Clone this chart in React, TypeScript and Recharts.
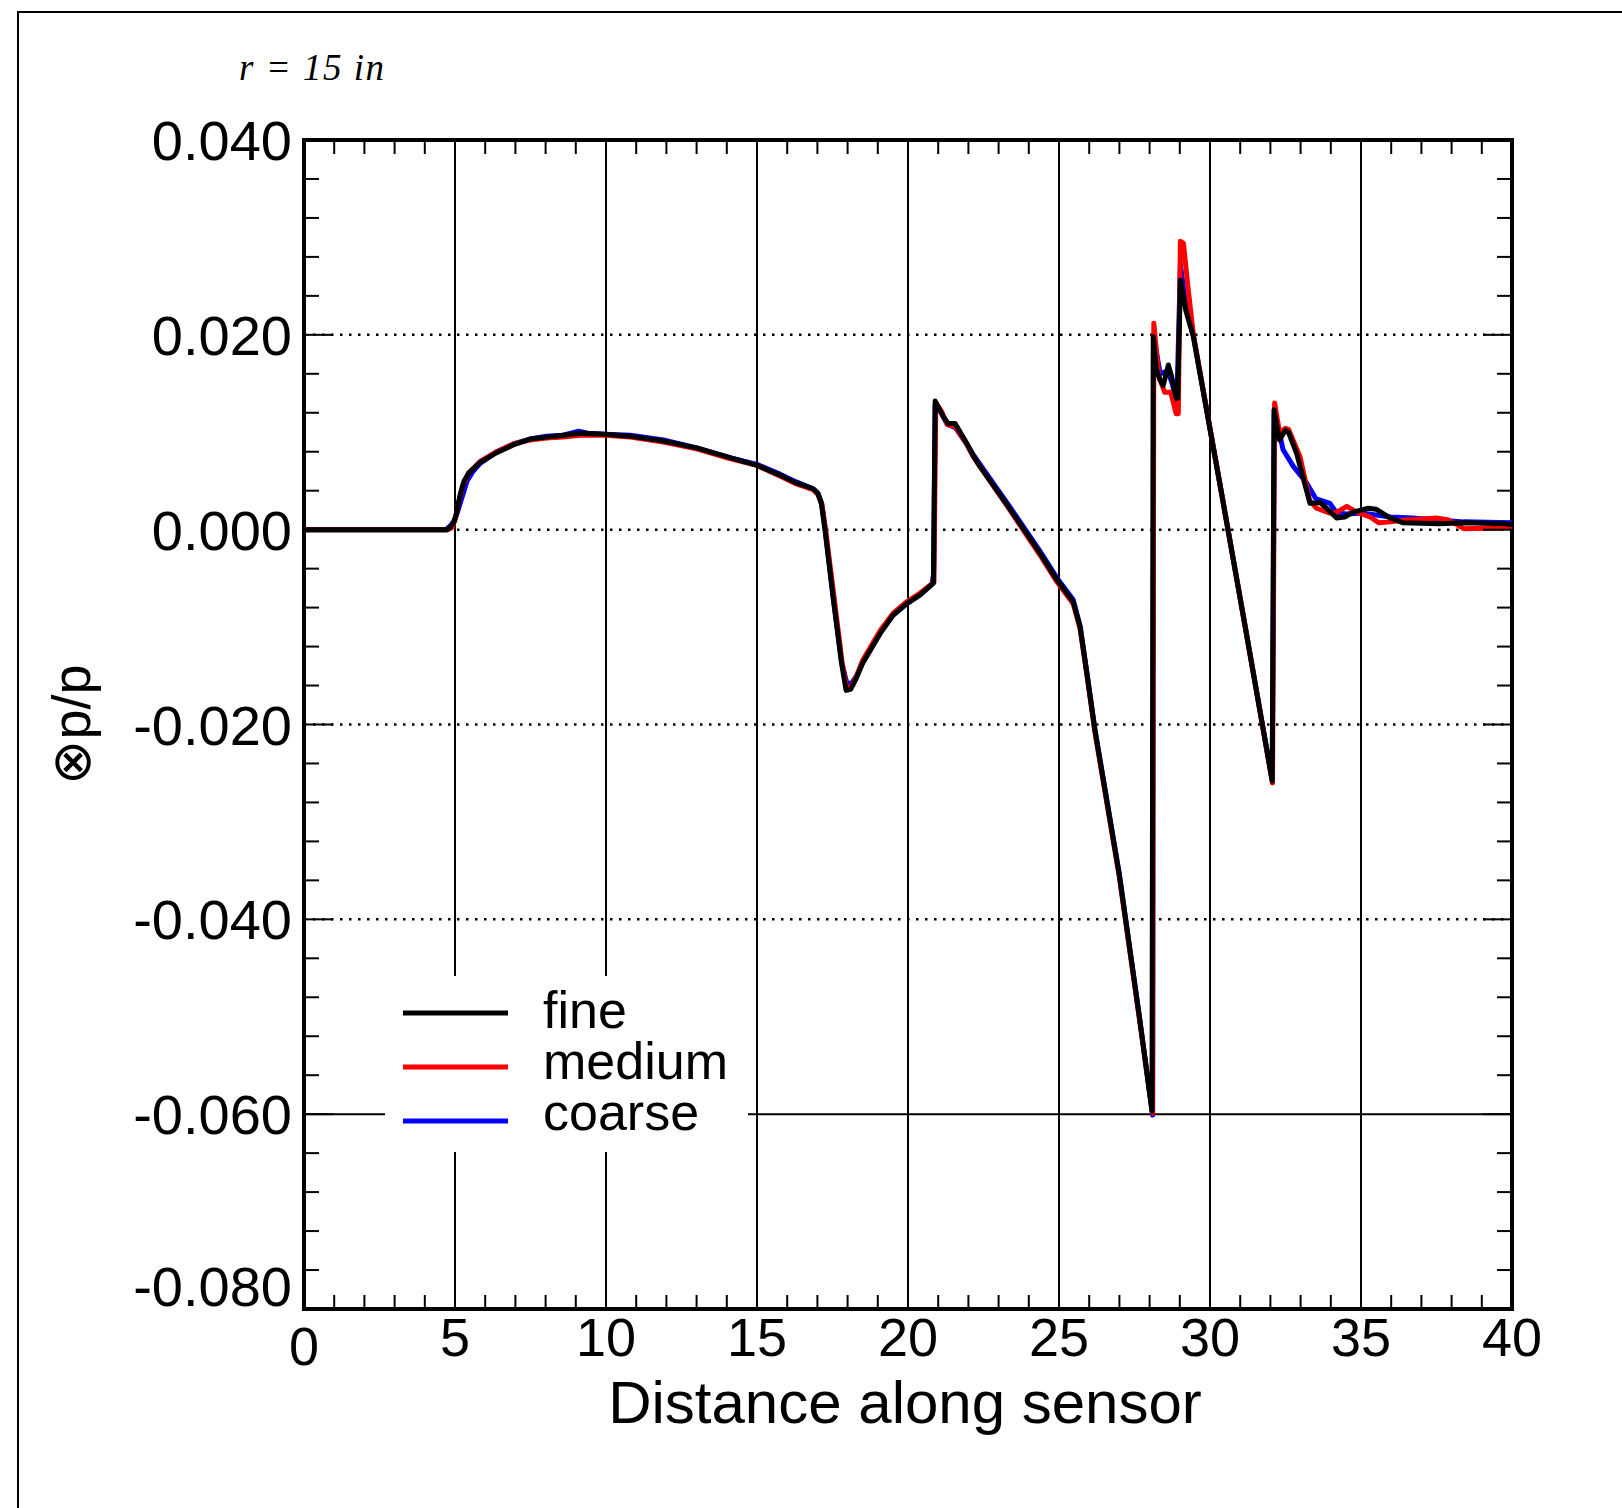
import React from "react";
import {
  LineChart,
  Line,
  XAxis,
  YAxis,
  ReferenceLine,
  ReferenceArea,
  Legend,
} from "recharts";

// fine grid (black)
const fineX = [
  0, 4.75, 4.85, 4.97, 5.05, 5.17, 5.3, 5.45, 5.83, 6.38, 6.93, 7.48, 8.03, 8.58, 9.14, 9.97, 10.8, 11.9, 13.0,
  14.1, 15.0, 15.76, 16.3, 16.86, 17.02, 17.13, 17.25, 17.52, 17.8, 17.95, 18.1, 18.25, 18.5, 19.07, 19.5,
  19.96, 20.4, 20.84, 20.9, 21.17, 21.33, 21.56, 21.94, 22.16, 22.38, 23.27, 24.37, 24.92, 25.47, 25.7, 25.92,
  26.19, 27.0, 27.66, 28.08, 28.12, 28.22, 28.34, 28.45, 28.62, 28.73, 28.88, 28.93, 29.02, 29.2, 29.45, 30.4,
  31.2, 32.06, 32.12, 32.3, 32.5, 32.6, 32.87, 33.31, 33.64, 33.86, 34.19, 34.46, 34.74, 35.24, 35.5, 35.96,
  36.4, 37.6, 38.4, 39.8, 40,
];
const fineY = [
  0, 0, 0.0003, 0.0008, 0.0017, 0.0036, 0.005, 0.0058, 0.0069, 0.0079, 0.0087, 0.0093, 0.0095, 0.0097, 0.0099,
  0.0098, 0.0096, 0.0091, 0.0084, 0.0074, 0.0066, 0.0056, 0.0048, 0.0042, 0.0037, 0.0027, 0.0, -0.0069, -0.0137,
  -0.0165, -0.0164, -0.0155, -0.0137, -0.0107, -0.0088, -0.0076, -0.0067, -0.0055, 0.0132, 0.0116, 0.0109,
  0.0109, 0.0089, 0.0076, 0.0065, 0.0026, -0.0024, -0.0051, -0.0074, -0.01, -0.0147, -0.0206, -0.0355, -0.05,
  -0.0597, 0.0198, 0.0165, 0.0154, 0.0148, 0.0169, 0.0157, 0.0135, 0.0135, 0.0256, 0.0225, 0.0198, 0.0034,
  -0.0106, -0.0258, 0.0123, 0.0092, 0.0102, 0.01, 0.0078, 0.0027, 0.0028, 0.0022, 0.0012, 0.0013, 0.0018,
  0.0022, 0.0021, 0.0012, 0.0007, 0.0006, 0.0007, 0.0006, 0.0005,
];

// medium grid (red)
const mediumX = [
  0, 4.75, 4.9, 5.0, 5.1, 5.25, 5.45, 5.83, 6.38, 6.93, 7.48, 8.03, 8.58, 9.14, 9.97, 10.8, 11.9, 13.0, 14.1,
  15.0, 15.76, 16.3, 16.86, 17.02, 17.15, 17.27, 17.55, 17.82, 17.97, 18.12, 18.3, 18.5, 19.07, 19.5, 19.96,
  20.4, 20.86, 20.92, 21.1, 21.3, 21.56, 21.94, 22.16, 23.27, 24.37, 24.92, 25.47, 25.7, 25.92, 26.19, 27.0,
  27.66, 28.1, 28.14, 28.3, 28.5, 28.7, 28.88, 28.95, 29.02, 29.12, 29.27, 29.45, 30.4, 31.2, 32.07, 32.14,
  32.3, 32.5, 32.6, 32.98, 33.3, 33.53, 33.97, 34.2, 34.53, 34.85, 35.3, 35.6, 35.96, 36.5, 37.5, 37.9, 38.4,
  40,
];
const mediumY = [
  0, 0, 0.0002, 0.001, 0.0025, 0.0045, 0.0058, 0.007, 0.008, 0.0088, 0.0092, 0.0094, 0.0095, 0.0097, 0.0097,
  0.0095, 0.009, 0.0083, 0.0073, 0.0066, 0.0055, 0.0047, 0.0041, 0.0036, 0.0026, 0.0, -0.0069, -0.0137,
  -0.0163, -0.0161, -0.015, -0.0134, -0.0104, -0.0086, -0.0074, -0.0065, -0.0054, 0.013, 0.0122, 0.0108,
  0.0106, 0.0088, 0.0075, 0.0025, -0.0026, -0.0053, -0.0076, -0.0102, -0.0148, -0.0208, -0.0357, -0.0502,
  -0.0599, 0.0212, 0.0158, 0.0141, 0.0141, 0.0119, 0.0119, 0.0296, 0.0294, 0.0249, 0.02, 0.0034, -0.0106,
  -0.026, 0.013, 0.01, 0.0104, 0.0103, 0.0075, 0.003, 0.0022, 0.0017, 0.0018, 0.0024, 0.0018, 0.0013, 0.0007,
  0.0008, 0.001, 0.0012, 0.001, 0.0001, 0.0002,
];

// coarse grid (blue)
const coarseX = [
  0, 4.7, 4.85, 4.95, 5.05, 5.2, 5.4, 5.6, 5.83, 6.38, 6.93, 7.48, 8.03, 8.58, 9.1, 9.4, 9.97, 10.8, 11.9, 13.0,
  14.1, 15.0, 15.76, 16.3, 16.86, 17.02, 17.14, 17.26, 17.52, 17.8, 17.97, 18.12, 18.3, 18.5, 19.07, 19.5,
  19.96, 20.4, 20.8, 20.85, 20.9, 21.1, 21.3, 21.56, 21.94, 22.16, 23.27, 24.37, 24.92, 25.47, 25.7, 25.92,
  26.19, 27.0, 27.66, 28.1, 28.13, 28.35, 28.6, 28.75, 28.9, 29.02, 29.2, 29.45, 30.4, 31.2, 32.06, 32.13,
  32.42, 32.76, 33.2, 33.5, 33.97, 34.2, 34.53, 35.07, 35.96, 36.7, 38.4, 40,
];
const coarseY = [
  0, 0, 0.0004, 0.0008, 0.0015, 0.003, 0.005, 0.006, 0.0068, 0.008, 0.0088, 0.0093, 0.0096, 0.0097, 0.0101,
  0.0099, 0.0098, 0.0097, 0.0092, 0.0084, 0.0074, 0.0067, 0.0057, 0.0049, 0.0042, 0.0037, 0.0027, 0.0,
  -0.0069, -0.0136, -0.0157, -0.0158, -0.015, -0.0136, -0.0106, -0.0088, -0.0076, -0.0067, -0.0056, -0.0045,
  0.0128, 0.012, 0.0108, 0.0105, 0.0088, 0.0077, 0.0028, -0.0022, -0.0049, -0.0072, -0.0099, -0.0146, -0.0205,
  -0.0354, -0.0499, -0.0601, 0.02, 0.016, 0.0163, 0.015, 0.0128, 0.0272, 0.023, 0.0199, 0.0035, -0.0105,
  -0.0257, 0.0123, 0.0082, 0.0065, 0.0048, 0.0032, 0.0027, 0.0017, 0.0016, 0.0017, 0.0013, 0.0012, 0.0008,
  0.0007,
];

const xMajorTicks = [0, 5, 10, 15, 20, 25, 30, 35, 40];
const xTickLabels = ["0", "5", "10", "15", "20", "25", "30", "35", "40"];
const yMajorTicks = [-0.08, -0.06, -0.04, -0.02, 0, 0.02, 0.04];
const yTickLabels = ["-0.080", "-0.060", "-0.040", "-0.020", "0.000", "0.020", "0.040"];
const xGridLines = [5, 10, 15, 20, 25, 30, 35];
const yDottedGrid = [0.02, 0, -0.02, -0.04];
const ySolidGrid = [-0.06];

const xMinorTicks = Array.from({ length: 41 }, (_, i) => i);
const yMinorTicks = Array.from({ length: 31 }, (_, i) => (i * 4 - 80) / 1000);

const toPoints = (xs: number[], ys: number[]) => xs.map((x, i) => ({ x, y: ys[i] }));

const series = [
  { name: "coarse", color: "#0000ff", data: toPoints(coarseX, coarseY) },
  { name: "medium", color: "#ff0000", data: toPoints(mediumX, mediumY) },
  { name: "fine", color: "#000000", data: toPoints(fineX, fineY) },
];
const legendOrder = ["fine", "medium", "coarse"];

const FONT = '"Liberation Sans", Arial, Helvetica, sans-serif';

const yMajorIndex = (v: number) => yMajorTicks.findIndex((m) => Math.abs(m - v) < 1e-9);

function BottomTick(props: any) {
  const { x, y, payload } = props;
  const v = payload.value;
  const idx = xMajorTicks.indexOf(v);
  return (
    <g>
      {v > 0 && v < 40 && (
        <line x1={x} y1={y} x2={x} y2={y - (idx >= 0 ? 30 : 14)} stroke="#000" strokeWidth={2} />
      )}
      {idx >= 0 && (
        <text x={x} y={y + (v === 0 ? 56 : 47)} textAnchor="middle" fontSize={54} fontFamily={FONT} fill="#000">
          {xTickLabels[idx]}
        </text>
      )}
    </g>
  );
}

function TopTick(props: any) {
  const { x, y, payload } = props;
  const v = payload.value;
  if (v <= 0 || v >= 40) return <g />;
  const major = xMajorTicks.indexOf(v) >= 0;
  return <line x1={x} y1={y} x2={x} y2={y + (major ? 30 : 14)} stroke="#000" strokeWidth={2} />;
}

function LeftTick(props: any) {
  const { x, y, payload } = props;
  const idx = yMajorIndex(payload.value);
  const edge = idx === 0 || idx === yMajorTicks.length - 1;
  return (
    <g>
      {!edge && <line x1={x} y1={y} x2={x + (idx >= 0 ? 29 : 15)} y2={y} stroke="#000" strokeWidth={2} />}
      {idx >= 0 && (
        <text x={x - 12} y={idx === 0 ? y - 3 : y + 20} textAnchor="end" fontSize={56} fontFamily={FONT} fill="#000">
          {yTickLabels[idx]}
        </text>
      )}
    </g>
  );
}

function RightTick(props: any) {
  const { x, y, payload } = props;
  const idx = yMajorIndex(payload.value);
  if (idx === 0 || idx === yMajorTicks.length - 1) return <g />;
  return <line x1={x} y1={y} x2={x - (idx >= 0 ? 29 : 15)} y2={y} stroke="#000" strokeWidth={2} />;
}

function LegendBox() {
  return (
    <div style={{ width: 363, height: 176, background: "#fff" }}>
      <svg width={363} height={176} style={{ display: "block" }}>
        {legendOrder.map((name, i) => {
          const s = series.find((d) => d.name === name)!;
          return (
            <g key={name}>
              <line x1={18} x2={123} y1={37 + i * 54} y2={37 + i * 54} stroke={s.color} strokeWidth={5} />
              <text x={158} y={52 + i * 51} fontSize={52} fontFamily={FONT} fill="#000">
                {name}
              </text>
            </g>
          );
        })}
      </svg>
    </div>
  );
}

export default function App() {
  return (
    <div style={{ position: "relative", width: 1622, height: 1508, background: "#fff" }}>
      <style>{"body{margin:0}"}</style>
      <div
        style={{
          position: "absolute",
          left: 17,
          top: 11,
          right: 0,
          bottom: 0,
          borderTop: "2px solid #000",
          borderLeft: "2px solid #000",
        }}
      />
      <svg width={500} height={120} style={{ position: "absolute", left: 0, top: 0 }}>
        <text
          x={239}
          y={80}
          fontSize={37}
          fontStyle="italic"
          fontFamily='"Liberation Serif", "Times New Roman", serif'
          textLength={145}
          lengthAdjust="spacing"
          fill="#000"
        >
          r = 15 in
        </text>
      </svg>
      <div style={{ position: "absolute", left: 0, top: 0 }}>
        <LineChart width={1622} height={1508} margin={{ top: 139, right: 109, bottom: 198, left: 303 }}>
          <XAxis
            dataKey="x"
            type="number"
            domain={[0, 40]}
            ticks={xMinorTicks}
            interval={0}
            allowDataOverflow
            height={1}
            tickSize={0}
            tickMargin={0}
            tickLine={false}
            axisLine={false}
            tick={<BottomTick />}
            label={{
              content: (p: any) => {
                const vb = p.viewBox || { x: 304, y: 1309, width: 1208 };
                return (
                  <text
                    x={vb.x + vb.width / 2 - 3}
                    y={vb.y + 114}
                    textAnchor="middle"
                    fontSize={60}
                    fontFamily={FONT}
                    fill="#000"
                  >
                    Distance along sensor
                  </text>
                );
              },
            }}
          />
          <XAxis
            xAxisId="top"
            orientation="top"
            dataKey="x"
            type="number"
            domain={[0, 40]}
            ticks={xMinorTicks}
            interval={0}
            allowDataOverflow
            height={1}
            tickSize={0}
            tickMargin={0}
            tickLine={false}
            axisLine={false}
            tick={<TopTick />}
          />
          <YAxis
            type="number"
            domain={[-0.08, 0.04]}
            ticks={yMinorTicks}
            interval={0}
            allowDataOverflow
            width={1}
            tickSize={0}
            tickMargin={0}
            tickLine={false}
            axisLine={false}
            tick={<LeftTick />}
            label={{
              content: (p: any) => {
                const vb = p.viewBox || { x: 303, y: 140, width: 1, height: 1169 };
                const cx = vb.x + vb.width - 214;
                const cy = vb.y + vb.height / 2;
                return (
                  <text
                    x={cx}
                    y={cy}
                    transform={`rotate(-90, ${cx}, ${cy})`}
                    textAnchor="middle"
                    fontSize={54}
                    fontFamily={FONT}
                    fill="#000"
                  >
                    ⊗p/p
                  </text>
                );
              },
            }}
          />
          <YAxis
            yAxisId="right"
            orientation="right"
            type="number"
            domain={[-0.08, 0.04]}
            ticks={yMinorTicks}
            interval={0}
            allowDataOverflow
            width={1}
            tickSize={0}
            tickMargin={0}
            tickLine={false}
            axisLine={false}
            tick={<RightTick />}
          />
          {xGridLines.map((v) => (
            <ReferenceLine key={"gx" + v} x={v} stroke="#000" strokeWidth={2} />
          ))}
          {yDottedGrid.map((v) => (
            <ReferenceLine key={"gy" + v} y={v} stroke="#000" strokeWidth={2.5} strokeDasharray="2.5 6.5" />
          ))}
          {ySolidGrid.map((v) => (
            <ReferenceLine key={"gs" + v} y={v} stroke="#000" strokeWidth={2} />
          ))}
          {series.map((s) => (
            <Line
              key={s.name}
              data={s.data}
              dataKey="y"
              name={s.name}
              type="linear"
              stroke={s.color}
              strokeWidth={5}
              strokeLinejoin="round"
              dot={false}
              activeDot={false}
              isAnimationActive={false}
            />
          ))}
          <ReferenceArea x1={0} x2={40} y1={-0.08} y2={0.04} fill="none" stroke="#000" strokeWidth={4} />
          <Legend
            layout="vertical"
            align="center"
            verticalAlign="middle"
            wrapperStyle={{ left: 385, top: 976, width: 363, height: 176, margin: 0, padding: 0 }}
            content={<LegendBox />}
          />
        </LineChart>
      </div>
    </div>
  );
}
